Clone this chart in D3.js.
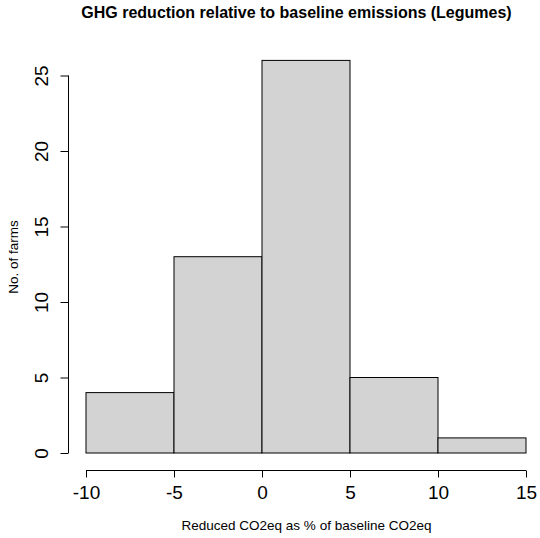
<!DOCTYPE html>
<html>
<head>
<meta charset="utf-8">
<script src="https://cdn.jsdelivr.net/npm/d3@7"></script>
<style>
  html, body { margin: 0; padding: 0; background: #fff; }
  text { font-family: "Liberation Sans", Arial, sans-serif; fill: #000; }
</style>
</head>
<body>
<svg id="chart" width="540" height="538"></svg>
<script>
// Histogram bins (lower/upper edges) and farm counts
const binStarts = [-10, -5, 0, 5, 10];
const binEnds = [-5, 0, 5, 10, 15];
const counts = [4, 13, 26, 5, 1];
const xTicks = [-10, -5, 0, 5, 10, 15];
const yTicks = [0, 5, 10, 15, 20, 25];

const titleText = "GHG reduction relative to baseline emissions (Legumes)";
const xLabel = "Reduced CO2eq as % of baseline CO2eq";
const yLabel = "No. of farms";

const svg = d3.select("#chart");

const x = d3.scaleLinear().domain([-10, 15]).range([86, 526]);
const y = d3.scaleLinear().domain([0, 25]).range([453, 75.5]);

// bars
svg.append("g").selectAll("rect")
  .data(counts)
  .join("rect")
  .attr("x", (d, i) => x(binStarts[i]))
  .attr("width", (d, i) => x(binEnds[i]) - x(binStarts[i]))
  .attr("y", d => y(d))
  .attr("height", d => y(0) - y(d))
  .attr("fill", "#d3d3d3")
  .attr("stroke", "#000")
  .attr("stroke-width", 1);

// x axis
const xAxis = svg.append("g").attr("transform", "translate(0,470.5)")
  .call(d3.axisBottom(x).tickValues(xTicks).tickSize(7).tickPadding(8).tickFormat(d => d < 0 ? "-" + Math.abs(d) : d));
xAxis.select(".domain").attr("d", `M${x(-10)},0H${x(15)}`).attr("stroke", "#000");
xAxis.selectAll(".tick line").attr("stroke", "#000");
xAxis.selectAll("text").style("font-size", "19px").attr("fill", "#000")
  .style("font-family", '"Liberation Sans", Arial, sans-serif');

// y axis
const yAxis = svg.append("g").attr("transform", "translate(68.5,0)")
  .call(d3.axisLeft(y).tickValues(yTicks).tickSize(8).tickFormat(d3.format("d")));
yAxis.select(".domain").attr("d", `M0,${y(0)}V${y(25)}`).attr("stroke", "#000");
yAxis.selectAll(".tick line").attr("stroke", "#000");
yAxis.selectAll("text")
  .attr("x", null).attr("dy", null)
  .attr("text-anchor", "middle")
  .attr("transform", "translate(-21,0) rotate(-90)")
  .style("font-size", "19px").attr("fill", "#000")
  .style("font-family", '"Liberation Sans", Arial, sans-serif');

// title
svg.append("text")
  .attr("x", 296.5).attr("y", 18)
  .attr("text-anchor", "middle")
  .style("font-size", "16px").style("font-weight", "bold")
  .text(titleText);

// x label
svg.append("text")
  .attr("x", 306.5).attr("y", 530)
  .attr("text-anchor", "middle")
  .style("font-size", "13.5px")
  .text(xLabel);

// y label
svg.append("text")
  .attr("transform", "translate(18,257) rotate(-90)")
  .attr("text-anchor", "middle")
  .style("font-size", "13.5px")
  .text(yLabel);
</script>
</body>
</html>
